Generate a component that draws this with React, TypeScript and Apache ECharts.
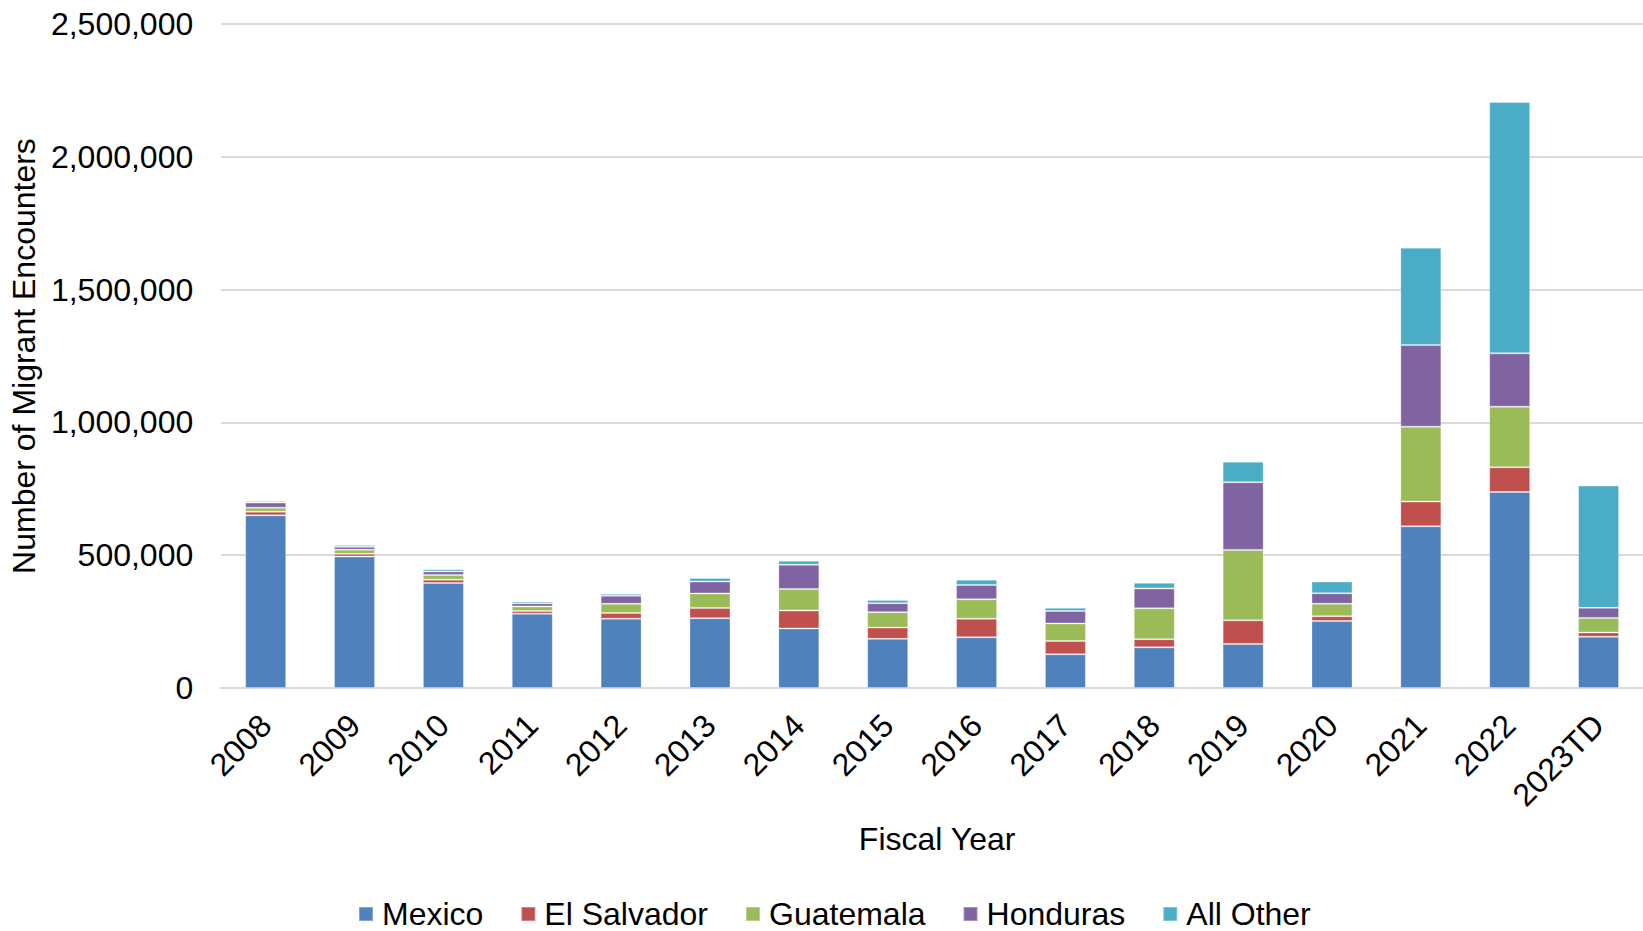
import React, { useEffect, useRef } from "react";
import * as echarts from "echarts";

const years = ["2008", "2009", "2010", "2011", "2012", "2013", "2014", "2015", "2016", "2017", "2018", "2019", "2020", "2021", "2022", "2023TD"];
const mexico = [650000, 495000, 395000, 280000, 261000, 263000, 224000, 185000, 191000, 127000, 153000, 166000, 252000, 609000, 738000, 193000];
const elSalvador = [14000, 10000, 13000, 10000, 21000, 38000, 68000, 42500, 70000, 50000, 31000, 89000, 18500, 93000, 93000, 16000];
const guatemala = [15000, 15500, 17000, 17000, 35000, 55000, 80500, 58000, 73000, 66000, 116000, 265000, 46700, 282000, 228000, 55000];
const honduras = [19000, 11000, 14000, 12000, 30500, 45000, 91500, 34000, 54000, 47000, 75000, 255000, 39600, 307000, 201000, 38000];
const allOther = [6000, 7000, 8000, 7000, 7000, 13000, 15000, 12000, 20000, 12000, 21000, 77000, 43900, 367000, 946000, 460000];

const seriesNames = ["Mexico", "El Salvador", "Guatemala", "Honduras", "All Other"];
const seriesColors = ["#4F81BD", "#C0504D", "#9BBB59", "#8064A2", "#4BACC6"];
const seriesData = [mexico, elSalvador, guatemala, honduras, allOther];

const FONT = "'Liberation Sans', Arial, sans-serif";
const FS = 32;

export default function App() {
  const ref = useRef<HTMLDivElement>(null);
  useEffect(() => {
    if (!ref.current) return;
    const chart = echarts.init(ref.current, null, { renderer: "svg" });
    chart.setOption({
      animation: false,
      backgroundColor: "#ffffff",
      textStyle: { fontFamily: FONT },
      grid: { left: 220, right: -10.5, top: 24, bottom: 243, containLabel: false },
      legend: {
        data: seriesNames,
        icon: "rect",
        itemWidth: 14,
        itemHeight: 14,
        itemGap: 37,
        left: 353,
        top: 893,
        textStyle: { fontSize: FS, color: "#000", fontFamily: FONT, padding: [0, 0, 0, 4] },
      },
      xAxis: {
        type: "category",
        data: years,
        name: "Fiscal Year",
        nameLocation: "middle",
        nameGap: 135,
        nameTextStyle: { fontSize: FS, color: "#000", fontFamily: FONT, padding: [0, 0, 0, 10] },
        axisTick: { show: false },
        axisLine: { lineStyle: { color: "#d9d9d9", width: 2 } },
        axisLabel: {
          rotate: 45,
          interval: 0,
          fontSize: FS,
          color: "#000",
          fontFamily: FONT,
          margin: 32,
          align: "right",
          verticalAlign: "middle",
        },
      },
      yAxis: {
        type: "value",
        min: 0,
        max: 2500000,
        interval: 500000,
        name: "Number of Migrant Encounters",
        nameLocation: "middle",
        nameGap: 178,
        nameTextStyle: { fontSize: FS, color: "#000", fontFamily: FONT },
        axisLine: { show: false },
        axisTick: { show: false },
        splitLine: { lineStyle: { color: "#d9d9d9", width: 2 } },
        axisLabel: {
          fontSize: FS,
          color: "#000",
          fontFamily: FONT,
          margin: 28,
          formatter: (v: number) => v.toLocaleString("en-US"),
        },
      },
      series: seriesNames.map((name, i) => ({
        name,
        type: "bar",
        stack: "total",
        barWidth: 41,
        data: seriesData[i],
        itemStyle: { color: seriesColors[i], borderColor: "rgba(255,255,255,0.3)", borderWidth: 1 },
      })),
    });
    return () => chart.dispose();
  }, []);
  return (
    <div
      ref={ref}
      style={{ position: "fixed", left: 0, top: 0, width: 1643, height: 931, background: "#fff" }}
    />
  );
}
